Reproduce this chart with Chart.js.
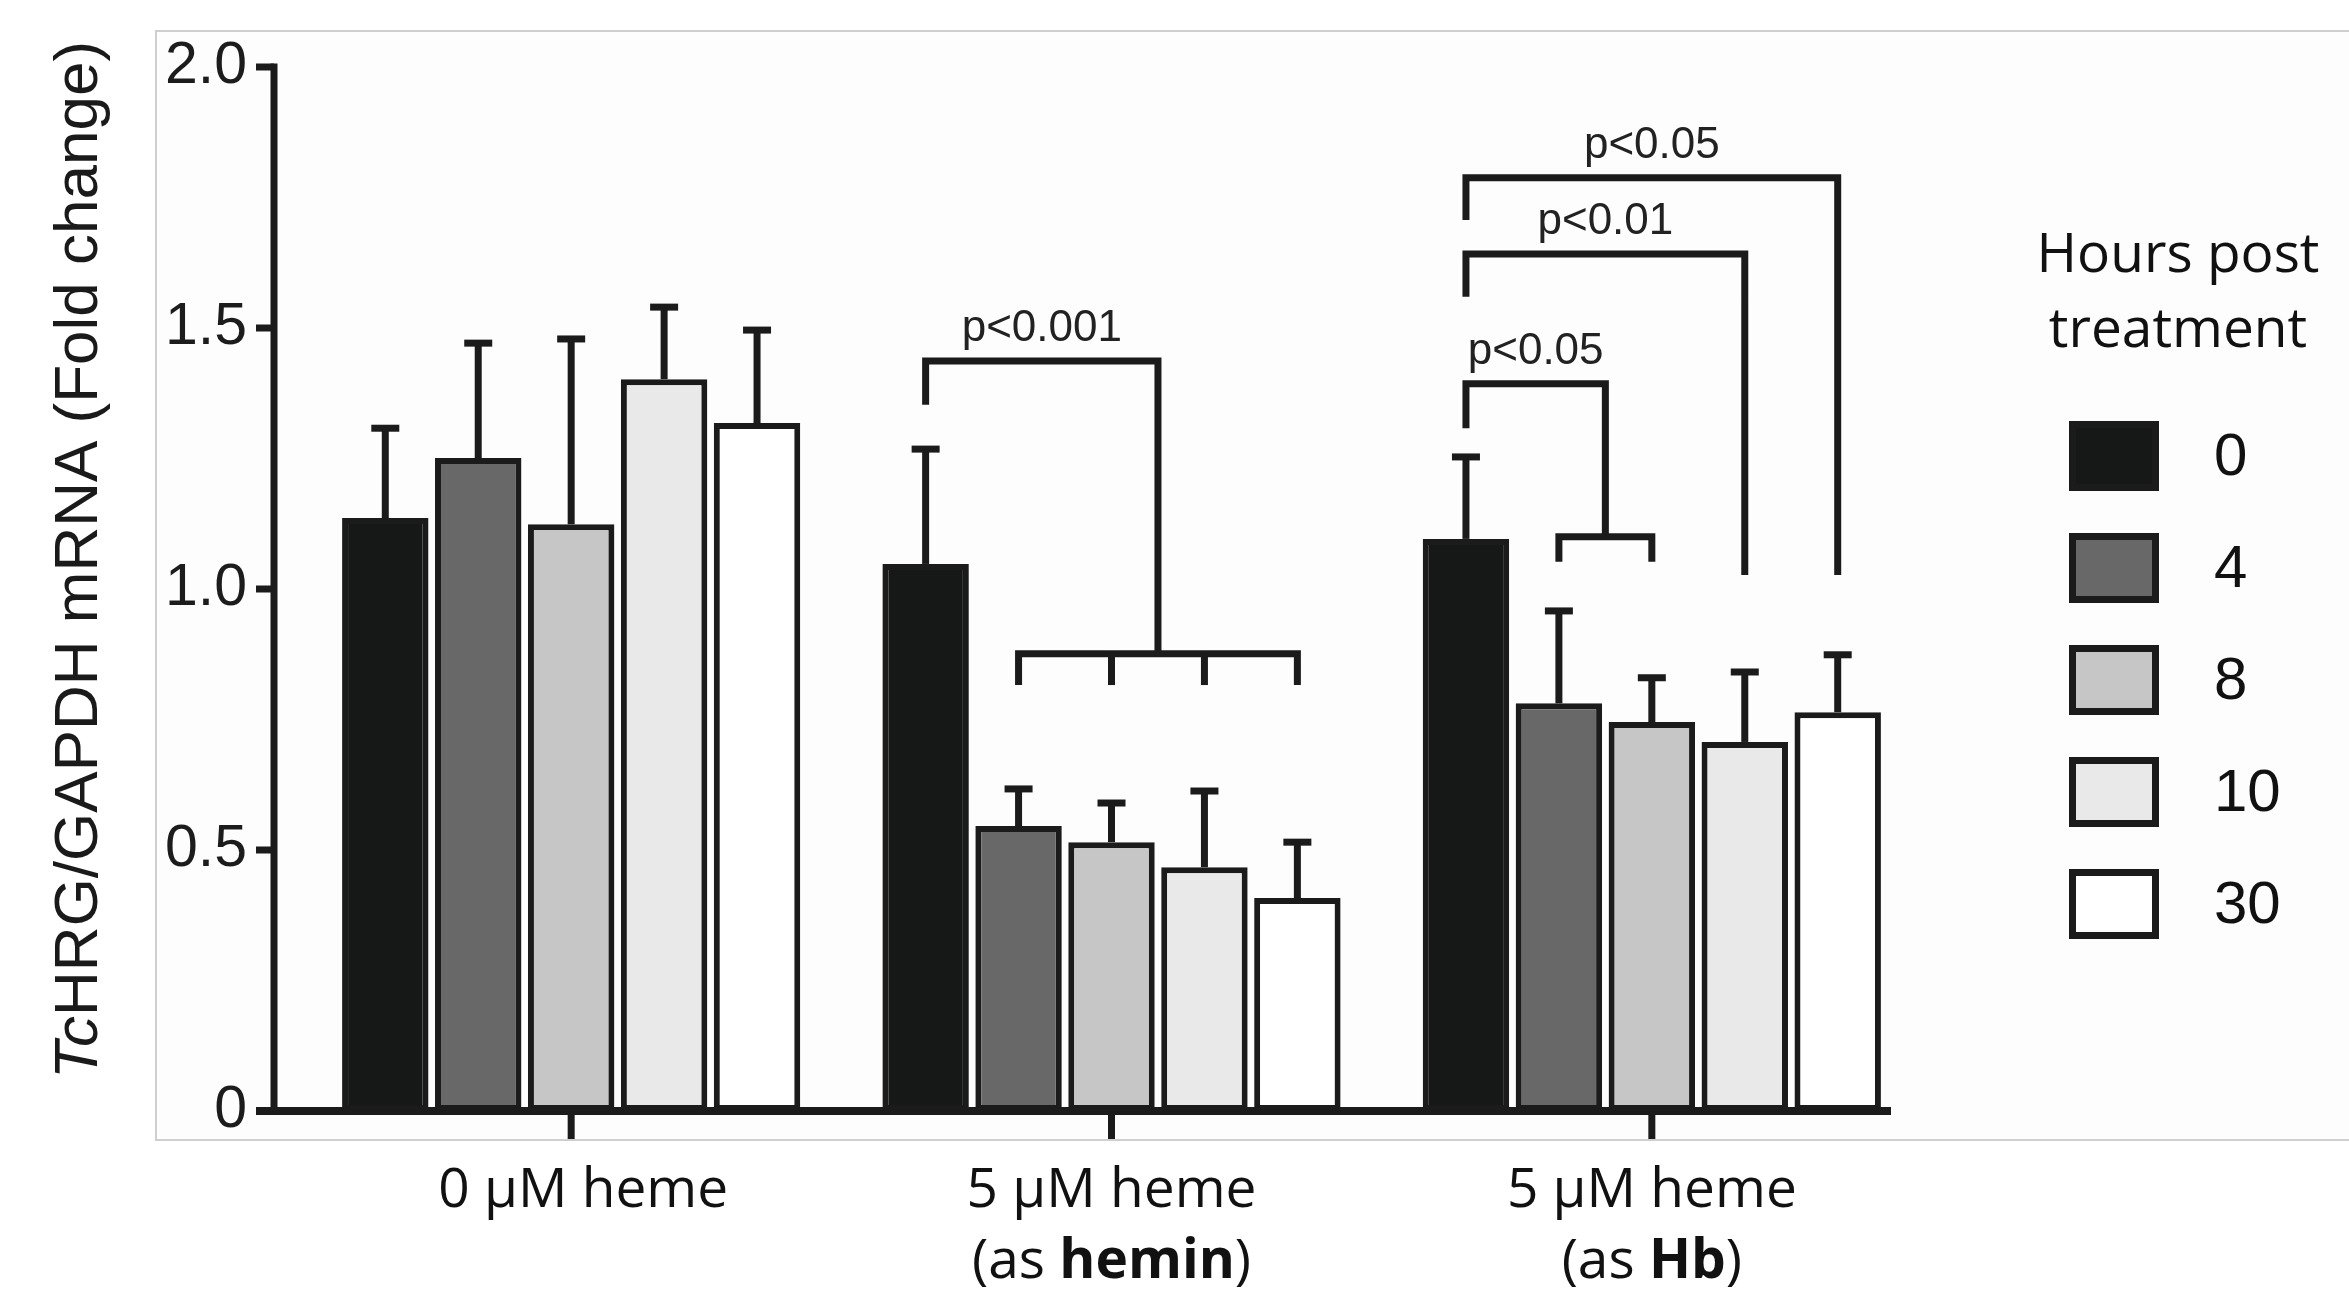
<!DOCTYPE html>
<html lang="en">
<head>
  <meta charset="UTF-8">
  <script src="https://cdn.jsdelivr.net/npm/chart.js"></script>
  <style>
    html, body { margin: 0; padding: 0; background: #fff; }
    #wrap { width: 2349px; height: 1300px; }
  </style>
</head>
<body>
  <div id="wrap"><canvas id="hrgChart" width="2349" height="1300"></canvas></div>

  <script>
    // categories (x groups) and how their labels are written (text, bold?)
    const groups = ['0 µM heme', '5 µM heme (as hemin)', '5 µM heme (as Hb)'];
    const groupLines = [
      [[['0 µM heme', false]]],
      [[['5 µM heme', false]], [['(as ', false], ['hemin', true], [')', false]]],
      [[['5 µM heme', false]], [['(as ', false], ['Hb', true], [')', false]]]
    ];

    // series = hours post treatment
    const hours = ['0', '4', '8', '10', '30'];
    const fills = ['#161817', '#686868', '#c5c6c5', '#e9e9e9', '#ffffff'];

    // mean fold change per group
    const mean0 = [1.136, 1.048, 1.096];
    const mean4 = [1.251, 0.546, 0.781];
    const mean8 = [1.124, 0.515, 0.745];
    const mean10 = [1.402, 0.467, 0.707];
    const mean30 = [1.318, 0.408, 0.764];

    // upper error (SD) per group
    const sd0 = [0.172, 0.220, 0.157];
    const sd4 = [0.220, 0.071, 0.177];
    const sd8 = [0.355, 0.075, 0.085];
    const sd10 = [0.138, 0.146, 0.134];
    const sd30 = [0.178, 0.107, 0.110];

    const means = [mean0, mean4, mean8, mean10, mean30];
    const sds = [sd0, sd4, sd8, sd10, sd30];

    const yTicks = [0, 0.5, 1.0, 1.5, 2.0];
    const yTickLabels = ['0', '0.5', '1.0', '1.5', '2.0'];

    // significance brackets: from series 0 to target series, y values in data units
    const brackets = [
      { group: 1, from: 0, to: [1, 2, 3, 4], leftEnd: 1.353, top: 1.437, joinAt: 0.876, rightEnd: 0.816, label: 'p<0.001' },
      { group: 2, from: 0, to: [1, 2], leftEnd: 1.308, top: 1.393, joinAt: 1.100, rightEnd: 1.052, label: 'p<0.05' },
      { group: 2, from: 0, to: [3], leftEnd: 1.560, top: 1.642, rightEnd: 1.027, label: 'p<0.01' },
      { group: 2, from: 0, to: [4], leftEnd: 1.707, top: 1.788, rightEnd: 1.027, label: 'p<0.05' }
    ];

    const INK = '#1b1b1b';
    const LW = 7;

    function line(ctx, pts) {
      ctx.beginPath();
      ctx.moveTo(pts[0][0], pts[0][1]);
      for (let i = 1; i < pts.length; i++) ctx.lineTo(pts[i][0], pts[i][1]);
      ctx.stroke();
    }

    const decor = {
      id: 'decor',
      beforeDraw(chart) {
        const { ctx, chartArea: a, width } = chart;
        ctx.save();
        ctx.fillStyle = '#ffffff';
        ctx.fillRect(0, 0, chart.width, chart.height);
        // light framed panel behind the plot
        const fx = a.left - 145, fy = a.top - 36, fb = a.bottom + 29;
        ctx.fillStyle = '#fdfdfd';
        ctx.fillRect(fx, fy, width - fx + 5, fb - fy);
        ctx.strokeStyle = '#cfcfcf';
        ctx.lineWidth = 2;
        ctx.strokeRect(fx, fy, width - fx + 5, fb - fy);
        ctx.restore();
      },
      afterDatasetsDraw(chart) {
        const { ctx, chartArea: a } = chart;
        const x = chart.scales.x, y = chart.scales.y;
        const barX = (ds, g) => chart.getDatasetMeta(ds).data[g].x;
        ctx.save();
        ctx.strokeStyle = INK;
        ctx.fillStyle = INK;
        ctx.lineWidth = LW;
        ctx.lineCap = 'butt';
        ctx.lineJoin = 'miter';

        // error bars (upper only)
        means.forEach((m, i) => {
          const meta = chart.getDatasetMeta(i);
          m.forEach((v, g) => {
            const bar = meta.data[g];
            const yt = y.getPixelForValue(v + sds[i][g]);
            line(ctx, [[bar.x, bar.y], [bar.x, yt]]);
            line(ctx, [[bar.x - 14, yt], [bar.x + 14, yt]]);
          });
        });

        // axes
        const axisX = a.left - 27;
        const y0 = y.getPixelForValue(0);
        line(ctx, [[axisX, y.getPixelForValue(2) - 3.5], [axisX, y0]]);
        yTicks.forEach(v => {
          const py = y.getPixelForValue(v);
          line(ctx, [[axisX - 18, py], [axisX, py]]);
        });
        ctx.lineWidth = 8;
        line(ctx, [[axisX - 18, y0], [a.right - 31, y0]]);
        ctx.lineWidth = LW;
        groups.forEach((g, i) => {
          const px = x.getPixelForValue(i);
          line(ctx, [[px, y0], [px, y0 + 28]]);
        });

        // significance brackets
        ctx.font = '44px "Liberation Sans", Arial, sans-serif';
        ctx.textAlign = 'center';
        ctx.textBaseline = 'alphabetic';
        brackets.forEach(b => {
          const xl = barX(b.from, b.group);
          const ts = b.to.map(i => barX(i, b.group));
          const multi = ts.length > 1;
          const xr = multi ? (ts[0] + ts[ts.length - 1]) / 2 : ts[0];
          const yTop = y.getPixelForValue(b.top);
          const yR = y.getPixelForValue(multi ? b.joinAt : b.rightEnd);
          line(ctx, [[xl, y.getPixelForValue(b.leftEnd)], [xl, yTop], [xr, yTop], [xr, yR]]);
          if (multi) {
            const ye = y.getPixelForValue(b.rightEnd);
            const x1 = ts[0], x2 = ts[ts.length - 1];
            line(ctx, [[x1, ye], [x1, yR], [x2, yR], [x2, ye]]);
            ts.slice(1, -1).forEach(t => line(ctx, [[t, yR], [t, ye]]));
          }
          ctx.fillStyle = '#222';
          ctx.fillText(b.label, (xl + xr) / 2, yTop - 20);
        });

        // x category labels (with bold parts)
        ctx.fillStyle = '#111';
        ctx.textAlign = 'left';
        const normal = '55px "Open Sans", sans-serif';
        const bold = 'bold 55px "Open Sans", sans-serif';
        groupLines.forEach((lines, i) => {
          const cx = x.getPixelForValue(i) + (i === 0 ? 12 : 0);
          lines.forEach((parts, li) => {
            let w = 0;
            parts.forEach(p => { ctx.font = p[1] ? bold : normal; w += ctx.measureText(p[0]).width; });
            let px = cx - w / 2;
            const py = a.bottom + 96 + li * 71;
            parts.forEach(p => {
              ctx.font = p[1] ? bold : normal;
              ctx.fillText(p[0], px, py);
              px += ctx.measureText(p[0]).width;
            });
          });
        });

        // y axis title, "Tc" in italics
        ctx.save();
        ctx.translate(97, a.top + 493);
        ctx.rotate(-Math.PI / 2);
        const it = 'italic 62px "Liberation Sans", Arial, sans-serif';
        const rg = '62px "Liberation Sans", Arial, sans-serif';
        const t1 = 'Tc', t2 = 'HRG/GAPDH mRNA (Fold change)';
        ctx.font = it; const w1 = ctx.measureText(t1).width;
        ctx.font = rg; const w2 = ctx.measureText(t2).width;
        ctx.fillStyle = '#1a1a1a';
        ctx.font = it; ctx.fillText(t1, -(w1 + w2) / 2, 0);
        ctx.font = rg; ctx.fillText(t2, -(w1 + w2) / 2 + w1, 0);
        ctx.restore();

        // legend
        const lx = a.right + 147;
        ctx.textAlign = 'center';
        ctx.fillStyle = '#111';
        ctx.font = normal;
        ctx.fillText('Hours post', a.right + 256, a.top + 205);
        ctx.fillText('treatment', a.right + 256, a.top + 280);
        ctx.font = '60px "Liberation Sans", Arial, sans-serif';
        ctx.textAlign = 'left';
        ctx.textBaseline = 'middle';
        chart.data.datasets.forEach((ds, i) => {
          const by = a.top + 354 + i * 112;
          ctx.fillStyle = ds.backgroundColor;
          ctx.fillRect(lx, by, 90, 70);
          ctx.strokeStyle = INK;
          ctx.lineWidth = LW;
          ctx.strokeRect(lx + LW / 2, by + LW / 2, 90 - LW, 70 - LW);
          ctx.fillStyle = '#111';
          ctx.fillText(ds.label, lx + 145, by + 37);
        });
        ctx.restore();
      }
    };

    new Chart(document.getElementById('hrgChart'), {
      type: 'bar',
      data: {
        labels: groups,
        datasets: hours.map((h, i) => ({
          label: h,
          data: means[i],
          backgroundColor: fills[i],
          borderColor: INK,
          borderWidth: 6,
          borderSkipped: false,
          categoryPercentage: 0.86,
          barPercentage: 0.93
        }))
      },
      options: {
        responsive: false,
        animation: false,
        layout: { padding: { top: 67, right: 427, bottom: 0, left: 0 } },
        plugins: {
          legend: { display: false },
          tooltip: { enabled: false }
        },
        scales: {
          x: {
            grid: { display: false },
            border: { display: false },
            ticks: { display: false },
            afterFit: s => { s.height = 189; }
          },
          y: {
            min: 0,
            max: 2,
            afterBuildTicks: s => { s.ticks = yTicks.map(v => ({ value: v })); },
            // hidden grid; tickLength only pushes labels left of the hand-drawn axis
            grid: { display: false, drawTicks: true, tickLength: 50 },
            border: { display: false },
            ticks: {
              padding: 4,
              color: '#1c1c1c',
              font: { family: '"Liberation Sans", Arial, sans-serif', size: 59 },
              callback: v => yTickLabels[yTicks.indexOf(v)]
            },
            afterFit: s => { s.width = 301; }
          }
        }
      },
      plugins: [decor]
    });
  </script>
</body>
</html>
